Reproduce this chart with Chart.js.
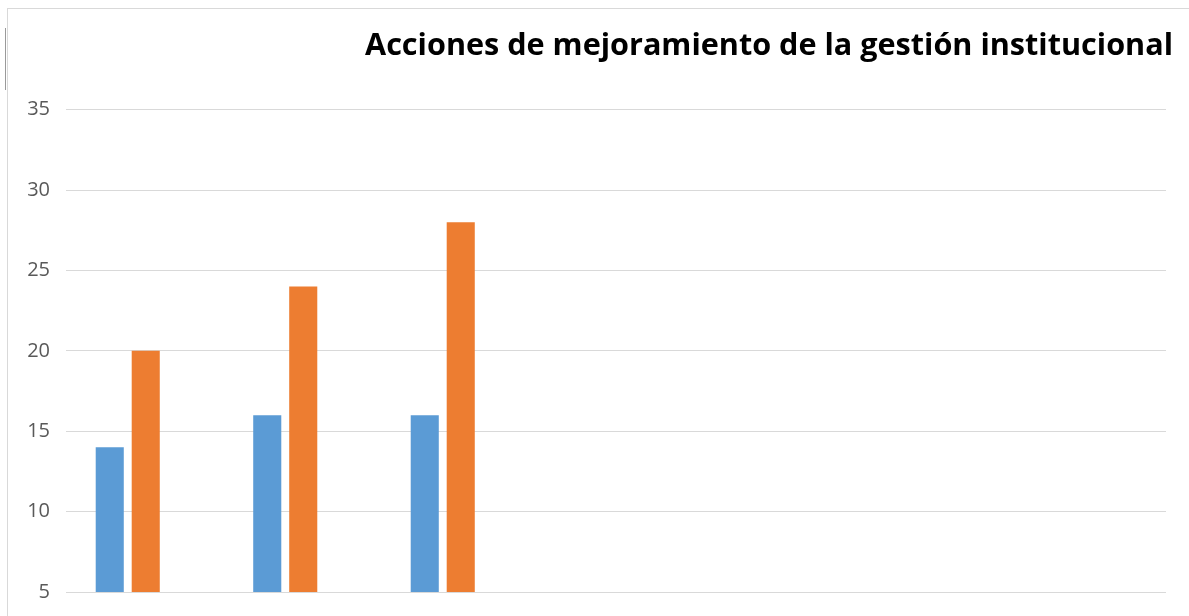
<!DOCTYPE html>
<html>
<head>
<meta charset="utf-8">
<script src="https://cdn.jsdelivr.net/npm/chart.js@4"></script>
<style>
  body { margin: 0; background: #fff; }
  .wrap { position: relative; width: 1189px; height: 616px; overflow: hidden; }
  .frame { position: absolute; left: 7px; top: 8px; width: 1300px; height: 700px;
           border-top: 1px solid #d9d9d9; border-left: 1px solid #d9d9d9; }
  .tick { position: absolute; left: 5px; top: 28px; height: 62px; border-left: 1px solid #9a9a9a; }
  canvas { position: absolute; left: 0; top: 0; }
</style>
</head>
<body>
<div class="wrap">
  <div class="frame"></div>
  <div class="tick"></div>
  <canvas id="chart" width="1189" height="616"></canvas>
</div>
<script>
// values
const categories = ['1', '2', '3'];
const serieAzul = [14, 16, 16];
const serieNaranja = [20, 24, 28];
const yTicks = [5, 10, 15, 20, 25, 30, 35];

const ctx = document.getElementById('chart').getContext('2d');
new Chart(ctx, {
    type: 'bar',
    data: {
        datasets: [
            {
                label: 'Serie 1',
                data: categories.map((c, i) => ({ x: i, y: serieAzul[i] })),
                backgroundColor: '#5B9BD5',
                barPercentage: 0.78,
                categoryPercentage: 0.457
            },
            {
                label: 'Serie 2',
                data: categories.map((c, i) => ({ x: i, y: serieNaranja[i] })),
                backgroundColor: '#ED7D31',
                barPercentage: 0.78,
                categoryPercentage: 0.457
            }
        ]
    },
    options: {
        responsive: false,
        animation: false,
        layout: { padding: { left: 0, right: 16, top: 0, bottom: 24 } },
        plugins: {
            legend: { display: false },
            tooltip: { enabled: false },
            title: {
                display: true,
                text: 'Acciones de mejoramiento de la gestión institucional',
                align: 'end',
                color: '#000',
                font: { family: 'Open Sans', size: 30.6, weight: 'bold' },
                padding: { top: 28, bottom: 45 }
            }
        },
        scales: {
            x: {
                type: 'linear',
                display: false,
                offset: false,
                min: -0.392,
                max: 6.592,
                // one tick per category so the bar width comes from the category spacing
                afterBuildTicks: (scale) => { scale.ticks = categories.map((c, i) => ({ value: i })); }
            },
            y: {
                min: yTicks[0],
                max: yTicks[yTicks.length - 1],
                afterBuildTicks: (scale) => { scale.ticks = yTicks.map(v => ({ value: v })); },
                afterFit: (scale) => {
                    scale.width = 66;
                    scale.paddingTop = 0;
                    scale.paddingBottom = 0;
                },
                border: { display: false },
                grid: { color: '#d9d9d9', lineWidth: 1, drawTicks: false },
                ticks: {
                    padding: 16,
                    color: '#595959',
                    font: { family: 'Open Sans', size: 20 }
                }
            },
            yRight: {
                position: 'right',
                display: true,
                grid: { display: false },
                border: { display: false },
                ticks: { display: false },
                afterFit: (scale) => { scale.width = 7; scale.paddingTop = 0; scale.paddingBottom = 0; }
            }
        }
    }
});
</script>
</body>
</html>
